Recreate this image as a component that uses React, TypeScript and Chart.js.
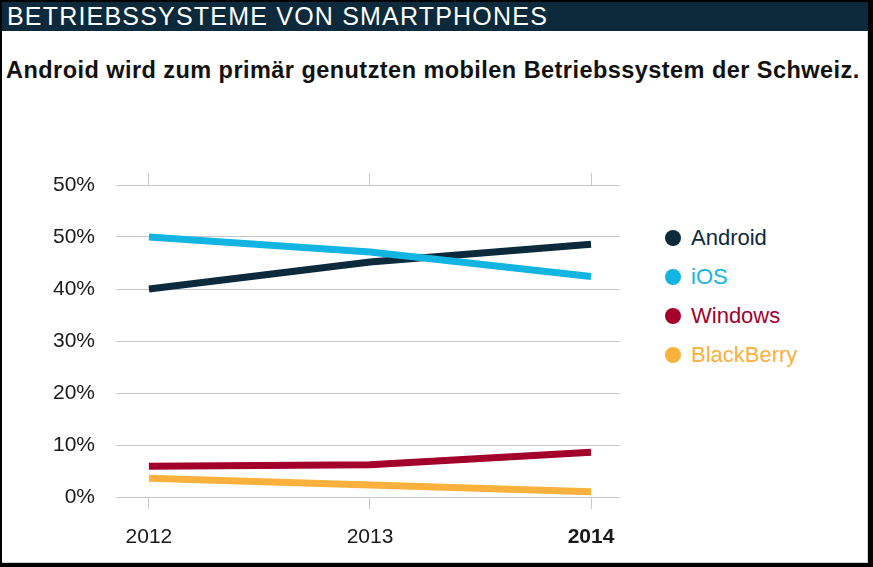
import React, { useEffect, useRef } from "react";
import { Chart, registerables } from "chart.js";

Chart.register(...registerables);

const title = "BETRIEBSSYSTEME VON SMARTPHONES";
const subtitle = "Android wird zum primär genutzten mobilen Betriebssystem der Schweiz.";

const years = [2012, 2013, 2014];
const highlightYear = 2014;
const yTickValues = [0, 10, 20, 30, 40, 50, 60];
const yTickLabels = ["0%", "10%", "20%", "30%", "40%", "50%", "50%"];

const seriesNames = ["Android", "iOS", "Windows", "BlackBerry"];
const android = [40, 45.2, 48.6];
const ios = [50, 47.1, 42.4];
const windows = [5.9, 6.2, 8.6];
const blackberry = [3.6, 2.3, 1.0];
const seriesValues = [android, ios, windows, blackberry];
const seriesColors = ["#0c2a3b", "#12b5e1", "#a3002b", "#fbb13c"];
const seriesOrder = [1, 0, 2, 3];

const FONT = "'Liberation Sans', Arial, Helvetica, sans-serif";

export default function App() {
  const canvasRef = useRef<HTMLCanvasElement | null>(null);

  useEffect(() => {
    const canvas = canvasRef.current;
    if (!canvas) return;
    const fixTicks = (scale: any) => {
      scale.ticks = years.map((v) => ({ value: v }));
    };
    const chart = new Chart(canvas, {
      type: "line",
      data: {
        datasets: seriesNames.map((name, i) => ({
          label: name,
          data: years.map((y, j) => ({ x: y, y: seriesValues[i][j] })),
          borderColor: seriesColors[i],
          backgroundColor: seriesColors[i],
          borderWidth: 7,
          pointRadius: 0,
          pointHoverRadius: 0,
          tension: 0,
          fill: false,
          order: seriesOrder[i],
          borderCapStyle: "butt",
        })),
      },
      options: {
        animation: false,
        responsive: true,
        maintainAspectRatio: false,
        events: [],
        layout: { padding: { top: 23, right: 20, left: 0, bottom: 0 } },
        plugins: {
          legend: { display: false },
          tooltip: { enabled: false },
          title: { display: false },
        },
        scales: {
          x: {
            type: "linear",
            position: "bottom",
            min: 2011.851,
            max: 2014.131,
            afterBuildTicks: fixTicks,
            afterFit: (s: any) => {
              s.height = 53;
            },
            border: { display: false },
            grid: {
              drawOnChartArea: false,
              drawTicks: true,
              tickLength: 12,
              color: "#c8c8c8",
              lineWidth: 1,
            },
            ticks: {
              padding: 16,
              color: "#1a1a1a",
              maxRotation: 0,
              autoSkip: false,
              callback: (v: any) => String(v),
              font: (ctx: any) => ({
                family: FONT,
                size: 21,
                weight: ctx.tick && ctx.tick.value === highlightYear ? "bold" : "normal",
              }),
            },
          },
          x2: {
            type: "linear",
            position: "top",
            min: 2011.851,
            max: 2014.131,
            afterBuildTicks: fixTicks,
            afterFit: (s: any) => {
              s.height = 12;
            },
            border: { display: false },
            grid: {
              drawOnChartArea: false,
              drawTicks: true,
              tickLength: 12,
              color: "#c8c8c8",
              lineWidth: 1,
            },
            ticks: { display: false },
          },
          y: {
            type: "linear",
            position: "left",
            min: 0,
            max: 60,
            afterBuildTicks: (s: any) => {
              s.ticks = yTickValues.map((v) => ({ value: v }));
            },
            afterFit: (s: any) => {
              s.width = 116;
            },
            border: { display: false },
            grid: {
              drawTicks: false,
              color: "#c8c8c8",
              lineWidth: 1,
            },
            ticks: {
              padding: 21,
              color: "#1a1a1a",
              font: { family: FONT, size: 21 },
              callback: (_v: any, i: number) => yTickLabels[i],
            },
          },
        },
      },
    } as any);
    return () => chart.destroy();
  }, []);

  return (
    <div
      style={{
        position: "absolute",
        left: 0,
        top: 0,
        width: 873,
        height: 567,
        background: "#000",
        fontFamily: FONT,
        overflow: "hidden",
      }}
    >
      <div
        style={{
          position: "absolute",
          left: 2,
          top: 2,
          width: 866,
          height: 561,
          background: "#fff",
          boxSizing: "border-box",
          borderRight: "1px solid #cfcfcf",
          borderBottom: "1px solid #cfcfcf",
        }}
      />
      <div
        style={{
          position: "absolute",
          left: 2,
          top: 2,
          width: 866,
          height: 29,
          background: "#0c2a3b",
        }}
      />
      <div
        style={{
          position: "absolute",
          left: 7,
          top: 2,
          height: 29,
          lineHeight: "29px",
          fontSize: 25,
          color: "#fff",
          whiteSpace: "nowrap",
          letterSpacing: 1.2,
        }}
      >
        {title}
      </div>
      <div
        style={{
          position: "absolute",
          left: 6,
          top: 56,
          lineHeight: "28px",
          fontSize: 23.5,
          letterSpacing: 0.45,
          fontWeight: "bold",
          color: "#111",
          whiteSpace: "nowrap",
        }}
      >
        {subtitle}
      </div>
      <div style={{ position: "absolute", left: 0, top: 150, width: 640, height: 400 }}>
        <canvas ref={canvasRef} />
      </div>
      {seriesNames.map((name, i) => (
        <div
          key={name}
          style={{
            position: "absolute",
            left: 665,
            top: 224 + i * 39,
            height: 28,
            display: "flex",
            alignItems: "center",
            whiteSpace: "nowrap",
          }}
        >
          <span
            style={{
              display: "inline-block",
              width: 16,
              height: 16,
              borderRadius: "50%",
              background: seriesColors[i],
              marginRight: 10,
            }}
          />
          <span style={{ fontSize: 22, color: seriesColors[i], lineHeight: "28px" }}>{name}</span>
        </div>
      ))}
    </div>
  );
}
